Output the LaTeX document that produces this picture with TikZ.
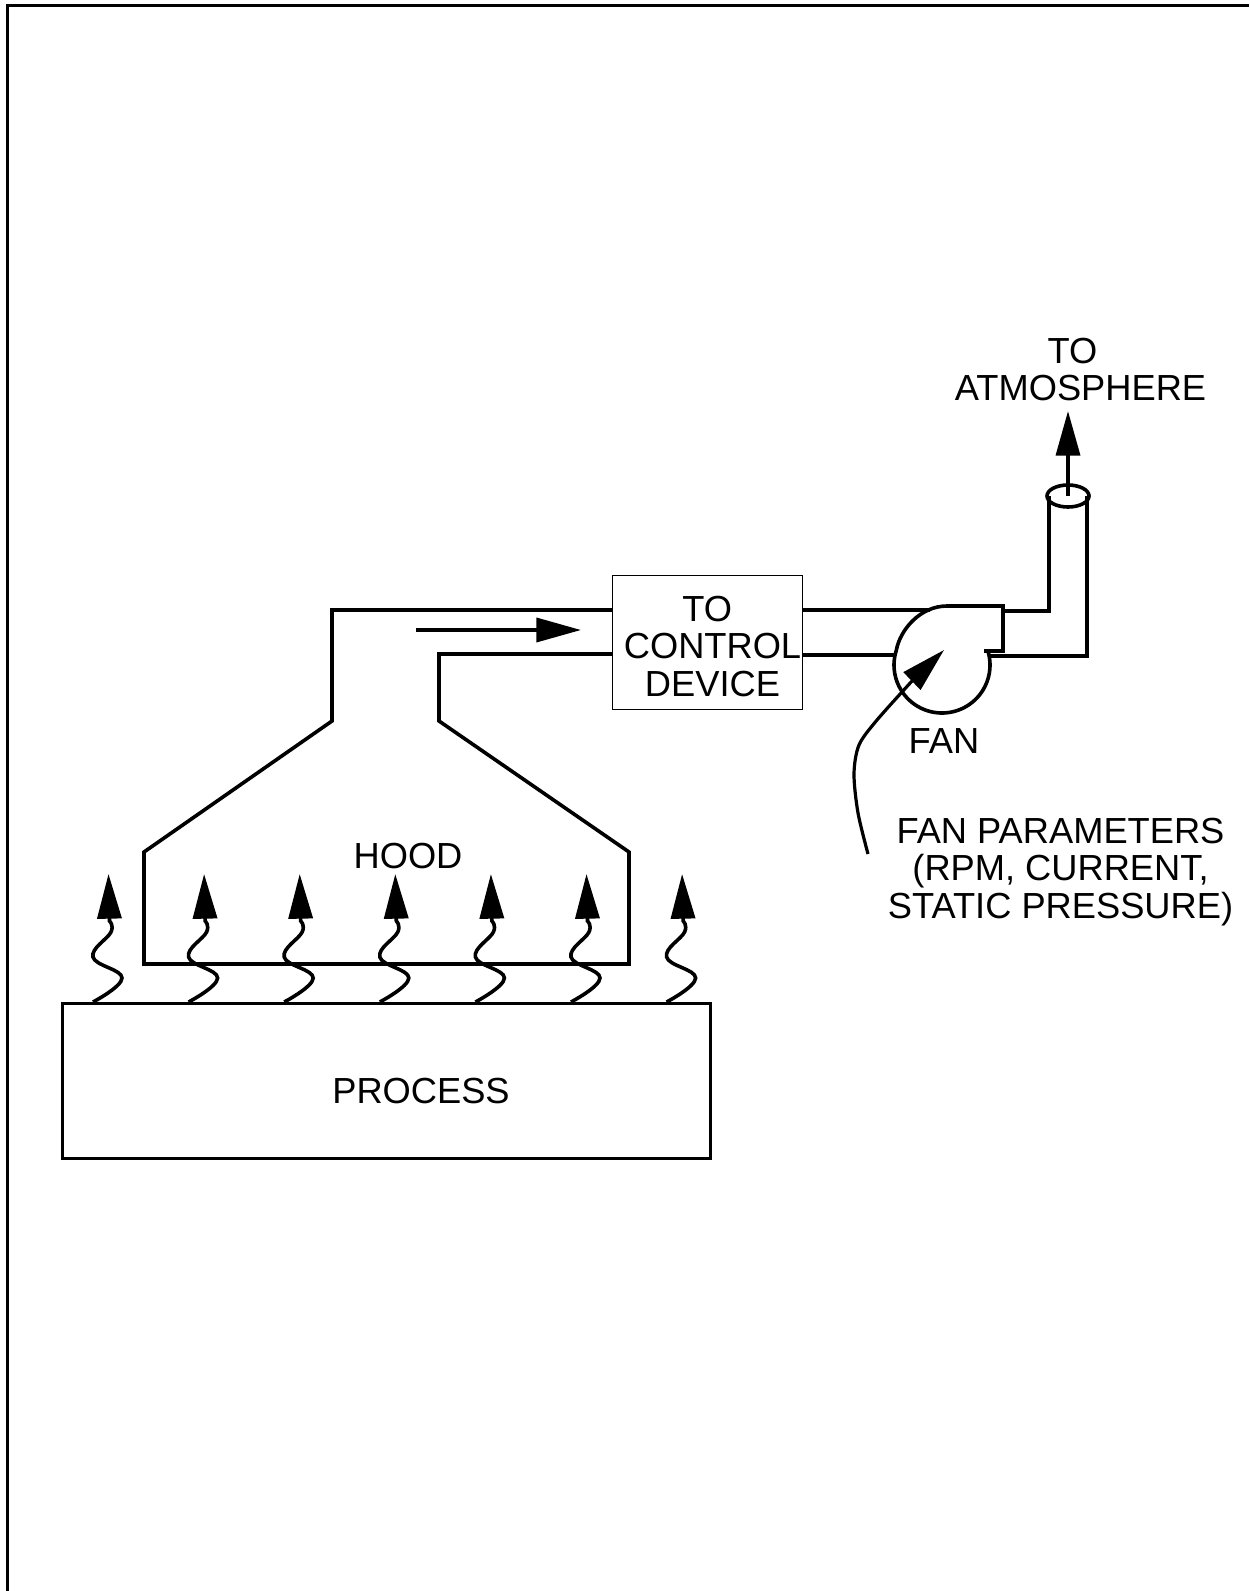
\documentclass[tikz,border=0pt]{standalone}
\usepackage{fontspec}
\setmainfont{Liberation Sans}
\usetikzlibrary{arrows.meta}
\tikzset{
  pipe/.style={line width=2.7pt,line join=miter},
  bigtip/.style={-{Triangle[length=33.5pt,width=18pt]}},
  lbl/.style={align=center,font=\fontsize{27.2}{28}\selectfont,inner sep=0pt},
}
\begin{document}
\begin{tikzpicture}[x=.75pt,y=-.75pt]
\useasboundingbox (0,0) rectangle (1249,1591);
% frame
\draw[line width=2.7pt] (7.5,1591) -- (7.5,5.5) -- (1249,5.5);
% process
\node[draw,line width=2.4pt,minimum width=486pt,minimum height=116.25pt,anchor=north west,inner sep=0pt] (process) at (61,1002) {};
\node[lbl] (ptext) at (421,1091.5) {PROCESS};
% wavy rising arrows
\foreach \k in {0,...,6}{
  \begin{scope}[xshift={\k*71.7pt}]
    \draw[pipe,bigtip] plot[smooth,tension=.7] coordinates {(93,1002) (122,978) (93,957) (111,932) (109.5,921)} -- (108.5,874);
  \end{scope}
}
% hood and duct
\draw[pipe] (612,610) -- (332,610) -- (332,721) -- (144,852) -- (144,964) -- (629,964) -- (629,852) -- (439,721) -- (439,654) -- (612,654);
\node[lbl] (hood) at (408,856.5) {HOOD};
\draw[pipe,bigtip] (416,630) -- (581,630);
% control device
\node[draw,line width=1.1pt,minimum width=142.5pt,minimum height=100.5pt,anchor=north west,inner sep=0pt] (box) at (612,575) {};
\node[lbl] (boxtext) at (712.5,646.5) {TO\hspace*{8pt}\\CONTROL\\DEVICE};
% duct to fan
\draw[pipe] (box.east |- 0,610) -- (930,610);
\draw[pipe] (box.east |- 0,655) -- (894,655);
% fan
\draw[pipe] plot[smooth,samples=40,domain=-18:198] ({942+48*cos(\x)},{665+48*sin(\x)}) .. controls (900,630) and (920,606) .. (947,606) -- (1003,606) -- (1003,651) -- (984,651);
\node[lbl] (fan) at (944,741) {FAN};
% stack
\draw[pipe] (1003,611) -- (1049,611) -- (1049,496);
\draw[pipe] (988,656) -- (1087,656) -- (1087,496);
\draw[pipe] (1068,496) ellipse [x radius=21,y radius=11];
\node[lbl] (atm) at (1080.5,369.5) {TO\hspace*{12pt}\\ATMOSPHERE};
\coordinate (stacktop) at (1068,496);
\coordinate (atmtip) at (1068,411);
\draw[pipe,bigtip] (stacktop) -- (atmtip);
% parameters pointer
\draw[pipe,bigtip,line width=2.4pt] plot[smooth,tension=.5] coordinates {(868,854) (858,813) (854,774) (859,745) (877,720) (912,681)} -- (944,650);
\node[lbl] (params) at (1060.5,872) {FAN PARAMETERS\\(RPM, CURRENT,\\STATIC PRESSURE)};
\end{tikzpicture}
\end{document}
